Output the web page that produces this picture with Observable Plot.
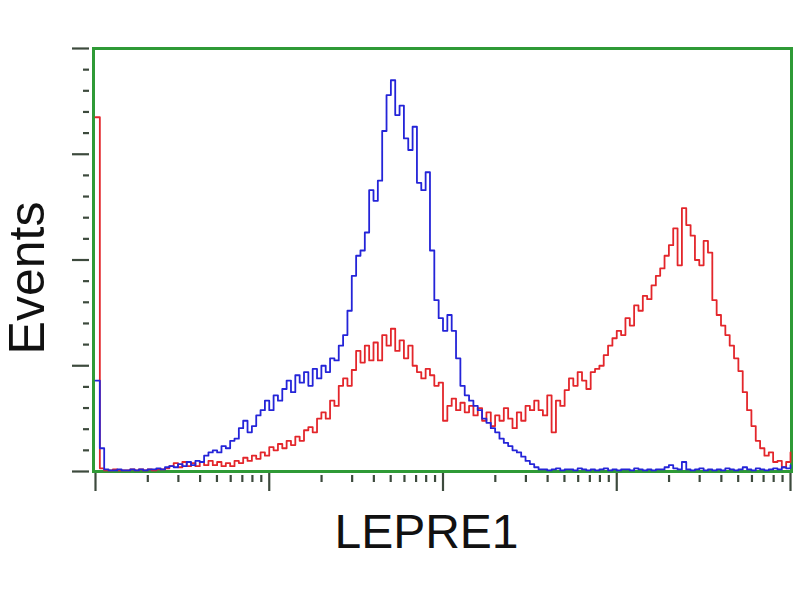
<!DOCTYPE html>
<html>
<head>
<meta charset="utf-8">
<script src="https://cdn.jsdelivr.net/npm/d3@7"></script>
<script src="https://cdn.jsdelivr.net/npm/@observablehq/plot@0.6"></script>
<style>
  html, body { margin: 0; padding: 0; background: #fff; }
  #chart { width: 800px; height: 600px; }
</style>
</head>
<body>
<div id="chart"></div>
<script>
// Histogram channels: log10 of fluorescence intensity (4 decades)
const logChannels = [
  0.000,0.025,0.050,0.075,0.100,0.125,0.150,0.175,0.200,0.225,
  0.250,0.275,0.300,0.325,0.350,0.375,0.400,0.425,0.450,0.475,
  0.500,0.525,0.550,0.575,0.600,0.625,0.650,0.675,0.700,0.725,
  0.750,0.775,0.800,0.825,0.850,0.875,0.900,0.925,0.950,0.975,
  1.000,1.025,1.050,1.075,1.100,1.125,1.150,1.175,1.200,1.225,
  1.250,1.275,1.300,1.325,1.350,1.375,1.400,1.425,1.450,1.475,
  1.500,1.525,1.550,1.575,1.600,1.625,1.650,1.675,1.700,1.725,
  1.750,1.775,1.800,1.825,1.850,1.875,1.900,1.925,1.950,1.975,
  2.000,2.025,2.050,2.075,2.100,2.125,2.150,2.175,2.200,2.225,
  2.250,2.275,2.300,2.325,2.350,2.375,2.400,2.425,2.450,2.475,
  2.500,2.525,2.550,2.575,2.600,2.625,2.650,2.675,2.700,2.725,
  2.750,2.775,2.800,2.825,2.850,2.875,2.900,2.925,2.950,2.975,
  3.000,3.025,3.050,3.075,3.100,3.125,3.150,3.175,3.200,3.225,
  3.250,3.275,3.300,3.325,3.350,3.375,3.400,3.425,3.450,3.475,
  3.500,3.525,3.550,3.575,3.600,3.625,3.650,3.675,3.700,3.725,
  3.750,3.775,3.800,3.825,3.850,3.875,3.900,3.925,3.950,3.975,
  4.000
];

// Blue series (control) event counts
const blueCounts = [
  86,22,2,1,1,2,1,1,2,1,
  2,1,2,2,3,2,4,5,4,7,
  5,9,6,10,9,15,18,20,18,24,
  22,29,31,41,48,37,43,53,58,67,
  58,72,67,78,86,75,91,84,94,81,
  97,88,100,94,107,105,119,129,152,185,
  204,209,226,266,256,275,322,356,370,337,
  346,315,304,326,273,266,283,209,162,145,
  133,148,133,107,81,72,67,62,58,50,
  46,41,37,31,27,24,20,18,14,10,
  7,4,2,2,1,2,3,1,2,2,
  1,3,2,1,2,1,2,3,1,2,
  1,2,2,1,3,2,1,2,1,2,
  2,4,6,3,2,9,2,1,2,3,
  1,2,1,2,1,3,2,1,2,4,
  2,1,3,2,1,2,3,2,4,3,
  6
];

// Red series (LEPRE1 transfected) event counts
const redCounts = [
  335,3,1,1,2,1,1,1,2,1,
  2,1,2,1,2,2,3,5,8,4,
  9,5,8,5,9,6,10,6,9,5,
  8,5,10,8,13,10,15,12,18,15,
  23,20,26,22,29,25,33,29,39,42,
  37,50,56,50,67,62,81,88,81,96,
  114,103,119,105,122,105,129,119,135,114,
  124,107,119,100,94,88,97,91,81,84,
  48,62,69,58,65,56,62,53,60,48,
  56,43,53,48,60,50,41,56,48,62,
  58,67,58,53,72,37,67,62,77,88,
  81,94,86,78,94,97,100,110,119,126,
  133,129,145,138,157,152,166,163,176,185,
  192,204,214,230,195,249,233,223,200,195,
  218,207,162,148,138,129,119,107,95,75,
  58,43,29,22,15,18,9,10,4,9,
  18
];

const yMajorTicks = [0, 100, 200, 300, 400];
const yMinorTicks = [20,40,60,80,120,140,160,180,220,240,260,280,320,340,360,380];
const xMajorTicks = [1, 10, 100, 1000, 10000];
const xMinorMultipliers = [2, 3, 4, 5, 6, 7, 8, 9];
const xLabel = "LEPRE1";
const yLabel = "Events";

const blueData = logChannels.map((e, i) => ({x: 10 ** e, y: blueCounts[i]}));
const redData = logChannels.map((e, i) => ({x: 10 ** e, y: redCounts[i]}));
const xMinorTicks = xMajorTicks.slice(0, -1).flatMap(d => xMinorMultipliers.map(m => d * m));

const green = "#2f9a36";
const tickColor = "#3d4a3d";

const chart = Plot.plot({
  width: 800,
  height: 600,
  marginLeft: 93,
  marginRight: 9,
  marginTop: 48,
  marginBottom: 129,
  style: {background: "#fff", fontFamily: "Liberation Sans, Arial, sans-serif"},
  x: {type: "log", domain: [1, 10000], insetLeft: 2, insetRight: 1},
  y: {domain: [0, 400]},
  marks: [
    Plot.axisY(yMajorTicks, {tickSize: 17, dx: -4, fill: "none", stroke: tickColor, strokeWidth: 2.2}),
    Plot.axisY(yMinorTicks, {tickSize: 6, dx: -4, fill: "none", stroke: tickColor, strokeWidth: 2.2}),
    Plot.axisX(xMajorTicks, {tickSize: 20, fill: "none", stroke: tickColor, strokeWidth: 2.2}),
    Plot.axisX(xMinorTicks, {tickSize: 7, dy: 4, fill: "none", stroke: tickColor, strokeWidth: 2.2}),
    Plot.frame({stroke: green, strokeWidth: 3}),
    Plot.line(redData, {x: "x", y: "y", curve: "step-after", stroke: "#e3262b", strokeWidth: 1.8}),
    Plot.line(blueData, {x: "x", y: "y", curve: "step-after", stroke: "#2424d8", strokeWidth: 1.8}),
    Plot.text([xLabel], {text: d => d, frameAnchor: "bottom", textAnchor: "middle", lineAnchor: "middle", dx: -16, dy: 61, fontSize: 48, fill: "#111"}),
    Plot.text([yLabel], {text: d => d, frameAnchor: "left", textAnchor: "middle", lineAnchor: "middle", rotate: -90, dx: -66, dy: 18, fontSize: 50, fill: "#111"})
  ]
});

document.getElementById("chart").appendChild(chart);
</script>
</body>
</html>
